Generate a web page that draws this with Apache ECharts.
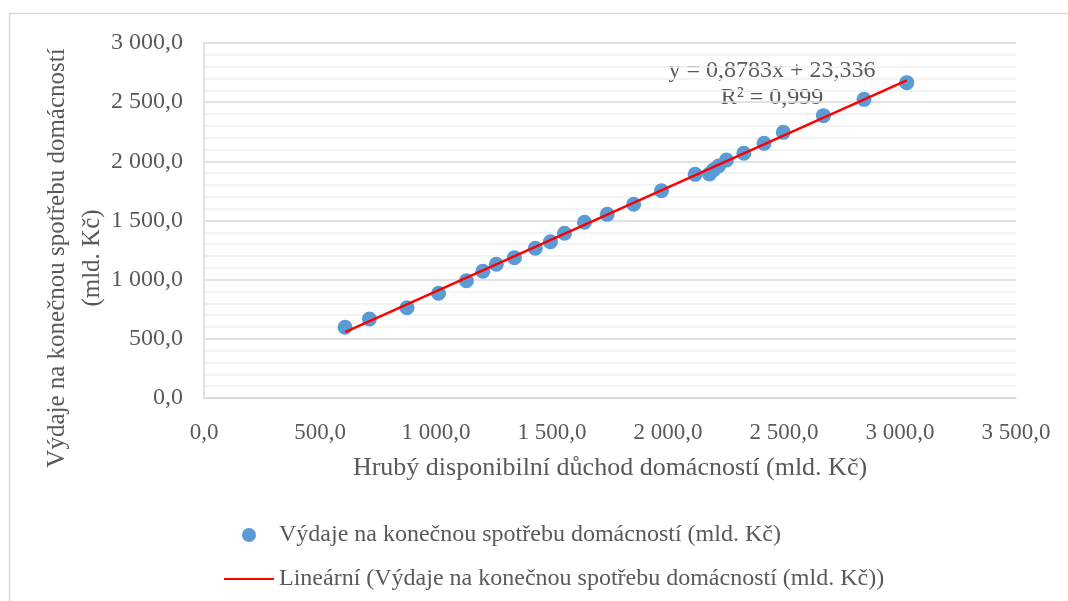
<!DOCTYPE html>
<html>
<head>
	<title>Výdaje vs. důchod</title>
	<meta charset="utf-8">
	<style type="text/css">
		body {
			margin: 0;
			padding: 0;
			background-color: #fff;
		}
		#main {
			width: 1068px;
			height: 601px;
		}
	</style>
	<script src="https://cdn.jsdelivr.net/npm/echarts@6/dist/echarts.min.js"></script>
</head>
<body>
	<div id="main"></div>
	<script type="text/javascript">

	// hrubý disponibilní důchod (x) a výdaje na konečnou spotřebu (y), mld. Kč
	var incomeX = [608, 713, 875, 1011, 1131, 1202, 1260, 1338, 1428, 1493, 1554, 1640, 1738,
		1852, 1972, 2117, 2179, 2196, 2218, 2252, 2327, 2414, 2497, 2670, 2845, 3029];
	var spendingY = [598, 668, 763, 885, 991, 1071, 1130, 1186, 1265, 1321, 1392, 1485, 1552,
		1637, 1752, 1890, 1893, 1927, 1961, 2011, 2068, 2152, 2245, 2386, 2524, 2665];

	// lineární trend podle rovnice z grafu
	var trendSlope = 0.8783;
	var trendIntercept = 23.336;

	var seriesName = 'Výdaje na konečnou spotřebu domácností (mld. Kč)';
	var trendName = 'Lineární (Výdaje na konečnou spotřebu domácností (mld. Kč))';

	var font = 'Liberation Serif';
	var grey = '#595959';

	function fmt(v) {
		var s = v.toFixed(1).split('.');
		return s[0].replace(/\B(?=(\d{3})+(?!\d))/g, ' ') + ',' + s[1];
	}

	var points = [];
	for (var i = 0; i < incomeX.length; i++) {
		points.push([incomeX[i], spendingY[i]]);
	}
	var xMin = Math.min.apply(null, incomeX);
	var xMax = Math.max.apply(null, incomeX);
	var trend = [
		[xMin, trendSlope * xMin + trendIntercept],
		[xMax, trendSlope * xMax + trendIntercept]
	];

	var chart = echarts.init(document.getElementById('main'));
	chart.setOption({
		animation: false,
		textStyle: { fontFamily: font, color: grey },
		grid: { left: 204, right: 52, top: 43, bottom: 203 },
		xAxis: {
			type: 'value',
			min: 0, max: 3500, interval: 500,
			name: 'Hrubý disponibilní důchod domácností (mld. Kč)',
			nameLocation: 'middle',
			nameGap: 57,
			nameTextStyle: { fontFamily: font, fontSize: 26, color: grey },
			axisLine: { show: true, lineStyle: { color: '#d9d9d9', width: 1.5 } },
			axisTick: { show: false },
			splitLine: { show: false },
			axisLabel: { margin: 23, fontFamily: font, fontSize: 23, color: grey, formatter: fmt }
		},
		yAxis: {
			type: 'value',
			min: 0, max: 3000, interval: 500,
			axisLine: { show: true, lineStyle: { color: '#d9d9d9', width: 1.5 } },
			axisTick: { show: false },
			minorTick: { show: false, splitNumber: 5 },
			minorSplitLine: { show: true, lineStyle: { color: '#f0f0f0', width: 1.5 } },
			splitLine: { show: true, lineStyle: { color: '#d9d9d9', width: 1.5 } },
			axisLabel: { margin: 21, fontFamily: font, fontSize: 24, color: grey, formatter: fmt }
		},
		legend: {
			orient: 'vertical',
			left: 218,
			top: 518,
			itemWidth: 50,
			itemHeight: 14,
			itemGap: 20,
			textStyle: { fontFamily: font, fontSize: 24, color: grey },
			data: [
				{ name: seriesName, icon: 'circle' },
				{ name: trendName, itemStyle: { opacity: 0 } }
			]
		},
		graphic: [
			{
				type: 'rect',
				shape: { x: 9.5, y: 13.5, width: 1100, height: 700 },
				style: { fill: 'none', stroke: '#d9d9d9', lineWidth: 1.5 },
				silent: true
			},
			{
				type: 'text',
				x: 75, y: 258,
				rotation: Math.PI / 2,
				style: {
					text: 'Výdaje na konečnou spotřebu domácností\n(mld. Kč)',
					font: '25px "Liberation Serif"',
					fill: grey,
					align: 'center',
					verticalAlign: 'middle',
					lineHeight: 35
				}
			},
			{
				type: 'text',
				x: 772, y: 84,
				style: {
					text: 'y = 0,8783x + 23,336\nR² = 0,999',
					font: '24px "Liberation Serif"',
					fill: grey,
					align: 'center',
					verticalAlign: 'middle',
					lineHeight: 27
				}
			}
		],
		series: [
			{
				name: seriesName,
				type: 'scatter',
				symbolSize: 15,
				itemStyle: { color: '#5b9bd5', opacity: 1 },
				data: points,
				z: 2
			},
			{
				name: trendName,
				type: 'line',
				symbol: 'none',
				lineStyle: { color: '#ff0000', width: 2.5 },
				itemStyle: { color: '#ff0000' },
				data: trend,
				z: 3
			}
		]
	});

	</script>
</body>
</html>
